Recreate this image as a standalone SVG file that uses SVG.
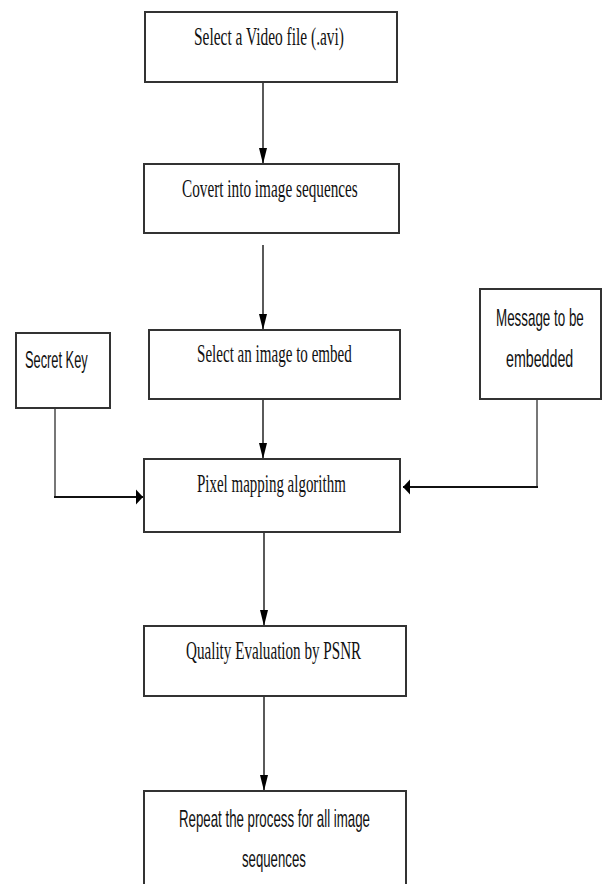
<svg xmlns="http://www.w3.org/2000/svg" width="603" height="884" viewBox="0 0 603 884">
<style>
.box{fill:#fff;stroke:#333;stroke-width:2}
.serif{font-family:"Liberation Serif","Times New Roman",serif;font-size:25px;fill:#111}
.sans{font-family:"Liberation Sans",Arial,sans-serif;font-size:24px;fill:#111}
.ln{fill:none;stroke:#000;stroke-width:1.3}
.side{fill:none;stroke:#111;stroke-width:2}
.sidev{fill:none;stroke:#777;stroke-width:2}
</style>
<defs>
<marker id="av" markerUnits="userSpaceOnUse" markerWidth="18" markerHeight="10" refX="16" refY="5" orient="auto" viewBox="0 0 18 10">
<path d="M0,1 L16,5 L0,9 z" fill="#000"/>
</marker>
<marker id="ah" markerUnits="userSpaceOnUse" markerWidth="8" markerHeight="16" refX="7" refY="8" orient="auto" viewBox="0 0 8 16">
<path d="M0,0.5 L7,8 L0,15.5 z" fill="#000"/>
</marker>
</defs>
<rect width="603" height="884" fill="#fff"/>
<g id="connectors">
<line class="ln" x1="263" y1="82" x2="263" y2="164" marker-end="url(#av)"/>
<line class="ln" x1="263" y1="245" x2="263" y2="330" marker-end="url(#av)"/>
<line class="ln" x1="263" y1="399" x2="263" y2="459" marker-end="url(#av)"/>
<line class="ln" x1="264" y1="532" x2="264" y2="626" marker-end="url(#av)"/>
<line class="ln" x1="264" y1="696" x2="264" y2="791" marker-end="url(#av)"/>
<line class="sidev" x1="55" y1="408" x2="55" y2="497"/>
<line class="side" x1="54" y1="497" x2="143" y2="497" marker-end="url(#ah)"/>
<line class="sidev" x1="537" y1="399" x2="537" y2="487"/>
<line class="side" x1="538" y1="487" x2="403" y2="487" marker-end="url(#ah)"/>
</g>
<g id="n1">
<rect class="box" x="145" y="12" width="252" height="70"/>
<text class="serif" transform="translate(194,45) scale(0.6,1)" textLength="250" lengthAdjust="spacingAndGlyphs">Select a Video file (.avi)</text>
</g>
<g id="n2">
<rect class="box" x="144" y="164" width="255" height="69"/>
<text class="serif" transform="translate(182,197) scale(0.6,1)" textLength="293" lengthAdjust="spacingAndGlyphs">Covert into image sequences</text>
</g>
<g id="n3">
<rect class="box" x="149" y="330" width="251" height="69"/>
<text class="serif" transform="translate(197,362) scale(0.6,1)" textLength="258" lengthAdjust="spacingAndGlyphs">Select an image to embed</text>
</g>
<g id="n4">
<rect class="box" x="144" y="459" width="256" height="73"/>
<text class="serif" transform="translate(197,492) scale(0.6,1)" textLength="248" lengthAdjust="spacingAndGlyphs">Pixel mapping algorithm</text>
</g>
<g id="n5">
<rect class="box" x="144" y="626" width="262" height="70"/>
<text class="serif" transform="translate(186,659) scale(0.6,1)" textLength="292" lengthAdjust="spacingAndGlyphs">Quality Evaluation by PSNR</text>
</g>
<g id="n6">
<rect class="box" x="144" y="791" width="262" height="120"/>
<text class="sans" transform="translate(179,827) scale(0.57,1)" textLength="335" lengthAdjust="spacingAndGlyphs">Repeat the process for all image</text>
<text class="sans" transform="translate(242,867) scale(0.57,1)" textLength="112" lengthAdjust="spacingAndGlyphs">sequences</text>
</g>
<g id="secret">
<rect class="box" x="16" y="333" width="94" height="75"/>
<text class="sans" transform="translate(25,368) scale(0.57,1)" textLength="110" lengthAdjust="spacingAndGlyphs">Secret Key</text>
</g>
<g id="message">
<rect class="box" x="480" y="289" width="121" height="110"/>
<text class="sans" transform="translate(496,326) scale(0.57,1)" textLength="154" lengthAdjust="spacingAndGlyphs">Message to be</text>
<text class="sans" transform="translate(506,367) scale(0.57,1)" textLength="118" lengthAdjust="spacingAndGlyphs">embedded</text>
</g>
</svg>
